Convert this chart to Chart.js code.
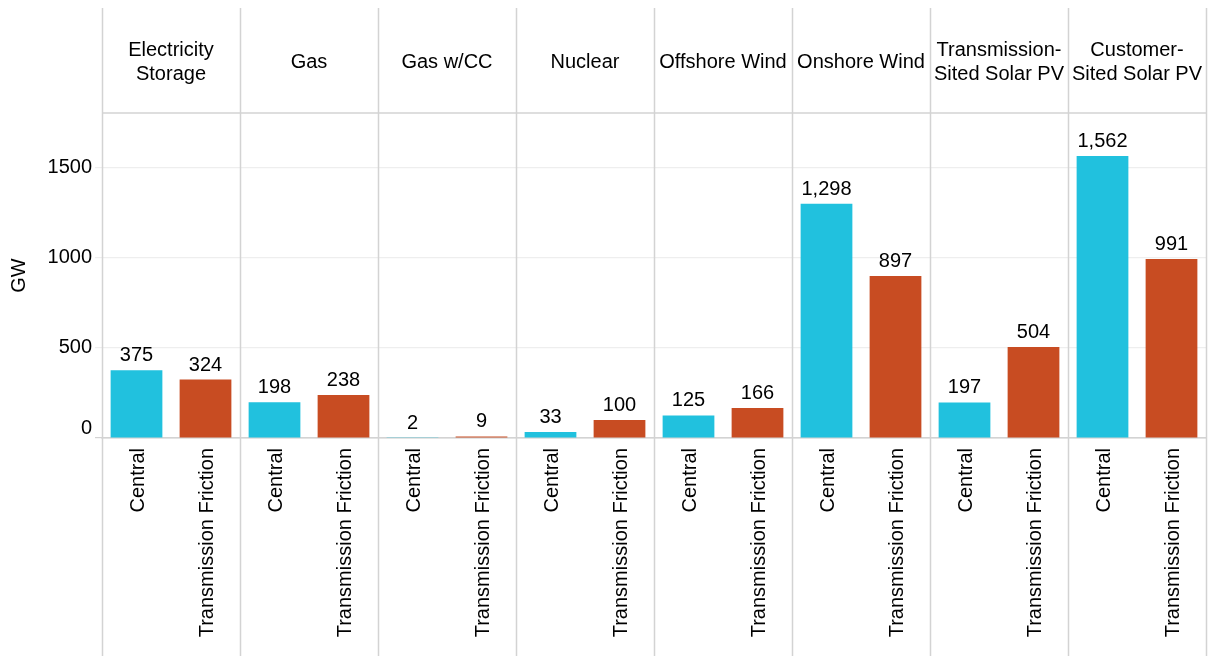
<!DOCTYPE html>
<html>
<head>
<meta charset="utf-8">
<script src="https://cdn.jsdelivr.net/npm/chart.js@4"></script>
<style>
  html, body { margin: 0; padding: 0; background: #fff; }
  #wrap { width: 1209px; height: 656px; }
</style>
</head>
<body>
<div id="wrap"><canvas id="chart" width="1209" height="656"></canvas></div>
<script>
const technologies = [
  ["Electricity", "Storage"],
  ["Gas"],
  ["Gas w/CC"],
  ["Nuclear"],
  ["Offshore Wind"],
  ["Onshore Wind"],
  ["Transmission-", "Sited Solar PV"],
  ["Customer-", "Sited Solar PV"],
];
const scenarios = ["Central", "Transmission Friction"];
const centralGW = [375, 198, 2, 33, 125, 1298, 197, 1562];
const frictionGW = [324, 238, 9, 100, 166, 897, 504, 991];
const yTicks = [0, 500, 1000, 1500];

const FONT = '"Liberation Sans", Arial, sans-serif';
const scenarioColors = ["#21c1de", "#c84c22"];
const lineGrey = "#d3d3d3";

// two bars per technology, side by side
const labels = [];
const values = [];
const colors = [];
technologies.forEach((t, i) => {
  labels.push(scenarios[0], scenarios[1]);
  values.push(centralGW[i], frictionGW[i]);
  colors.push(scenarioColors[0], scenarioColors[1]);
});

// panel strips, separators, y tick labels and bar values
const facetPlugin = {
  id: "facets",
  afterDraw(chart) {
    const { ctx, chartArea } = chart;
    const y = chart.scales.y;
    const panelW = (chartArea.right - chartArea.left) / technologies.length;
    ctx.save();

    ctx.strokeStyle = lineGrey;
    ctx.lineWidth = 1.5;
    ctx.beginPath();
    ctx.moveTo(chartArea.left, chartArea.top);
    ctx.lineTo(chartArea.right, chartArea.top);
    for (let i = 0; i <= technologies.length; i++) {
      const px = Math.round(chartArea.left + i * panelW) + 0.5;
      ctx.moveTo(px, 8);
      ctx.lineTo(px, chart.height);
    }
    ctx.stroke();

    ctx.fillStyle = "#000";
    ctx.font = "20px " + FONT;
    ctx.textAlign = "center";
    ctx.textBaseline = "middle";
    const stripMid = (8 + chartArea.top) / 2 + 1.5;
    technologies.forEach((lines, i) => {
      const cx = chartArea.left + (i + 0.5) * panelW;
      lines.forEach((line, k) => {
        ctx.fillText(line, cx, stripMid + (k - (lines.length - 1) / 2) * 24);
      });
    });

    ctx.textAlign = "right";
    yTicks.forEach(v => {
      const py = y.getPixelForValue(v) - (v === 0 ? 10 : 0);
      ctx.fillText(String(v), chartArea.left - 10, py);
    });

    ctx.textAlign = "center";
    ctx.textBaseline = "alphabetic";
    chart.getDatasetMeta(0).data.forEach((bar, i) => {
      ctx.fillText(values[i].toLocaleString("en-US"), bar.x, bar.y - 9);
    });
    ctx.restore();
  },
};

new Chart(document.getElementById("chart"), {
  type: "bar",
  data: {
    labels: labels,
    datasets: [{
      data: values,
      backgroundColor: colors,
      barPercentage: 0.75,
      categoryPercentage: 1,
    }],
  },
  options: {
    responsive: false,
    animation: false,
    events: [],
    layout: { padding: { top: 113, right: 3, left: 0, bottom: 0 } },
    plugins: { legend: { display: false }, tooltip: { enabled: false } },
    scales: {
      x: {
        grid: { display: false },
        border: { color: lineGrey, width: 1.5 },
        ticks: {
          autoSkip: false,
          minRotation: 90,
          maxRotation: 90,
          padding: 2,
          labelOffset: 2,
          color: "#000",
          font: { size: 20, family: FONT },
        },
        afterFit: s => { s.height = 218; },
      },
      y: {
        min: 0,
        max: 1800,
        afterBuildTicks: s => { s.ticks = yTicks.map(v => ({ value: v })); },
        grid: {
          color: c => (c.tick && c.tick.value === 0 ? lineGrey : "#eeeeee"),
          lineWidth: 1.2,
          tickLength: 7,
        },
        border: { display: false },
        ticks: { display: false },
        title: {
          display: true,
          text: "GW",
          color: "#000",
          font: { size: 20, family: FONT },
          padding: { top: 7, bottom: 0 },
        },
        afterFit: s => { s.width = 102; },
      },
    },
  },
  plugins: [facetPlugin],
});
</script>
</body>
</html>
